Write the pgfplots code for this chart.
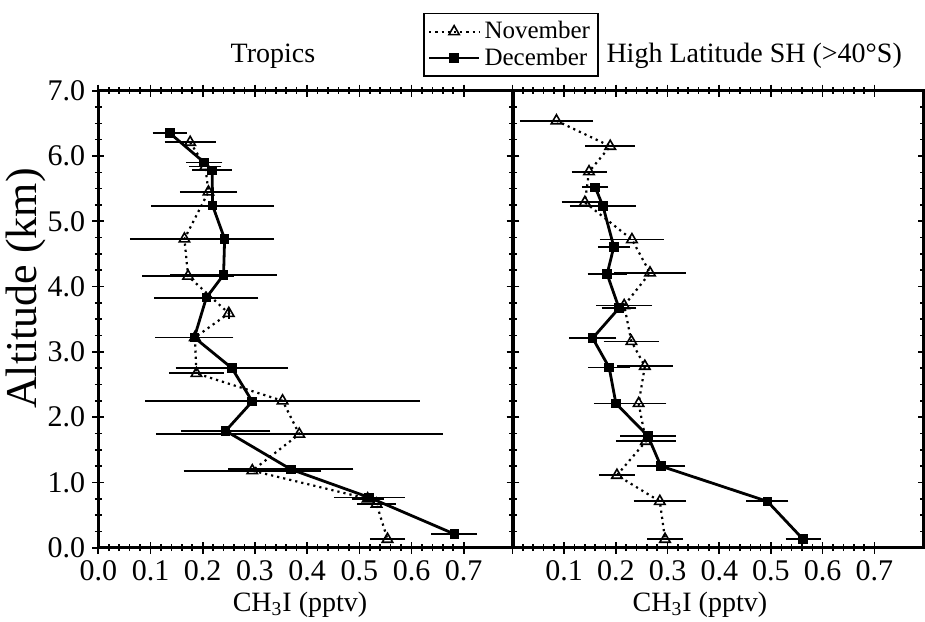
\documentclass[border=0pt]{standalone}
\usepackage{fontspec}
\setmainfont{Liberation Serif}
\usepackage{pgfplots}
\pgfplotsset{compat=1.18}

\pgfplotsset{
  prof/.style={
    scale only axis, height=228.5pt,
    xmin=0, xmax=0.795, ymin=0, ymax=7,
    xtick={0,0.1,0.2,0.3,0.4,0.5,0.6,0.7}, minor x tick num=4,
    ytick={0,1,2,3,4,5,6,7}, minor y tick num=3,
    tick align=center, major tick length=6pt, minor tick length=3.5pt,
    every tick/.style={black, line width=0.8pt},
    axis line style={line width=1.3pt},
    tick label style={font=\fontsize{15}{15}\selectfont},
    /pgf/number format/assume math mode=true,
    /pgf/number format/fixed, /pgf/number format/fixed zerofill,
    /pgf/number format/precision=1,
    title style={font=\fontsize{14}{14}\selectfont, anchor=base, yshift=-5pt},
    xlabel style={font=\fontsize{14}{14}\selectfont, anchor=center},
  },
  nov/.style={black, dotted, line width=1.1pt,
    mark=triangle, mark size=3pt, mark options={solid, fill=white, line width=0.8pt},
    error bars/.cd, x dir=both, x explicit,
    error bar style={solid, line width=0.9pt},
    error mark options={solid, line width=0.9pt, mark size=2.8pt}},
  dec/.style={black, solid, line width=1.4pt,
    mark=square*, mark size=1.7pt, mark options={solid, fill=black},
    error bars/.cd, x dir=both, x explicit,
    error bar style={solid, line width=0.9pt},
    error mark options={solid, line width=0.9pt, mark size=2.8pt}},
}

\begin{document}
\begin{tikzpicture}
\path[use as bounding box] (0,0) rectangle (462.5pt,310.5pt);

% Tropics
\begin{axis}[prof, width=207.5pt,
  at={(49.15pt,36.65pt)}, anchor=south west,
  title={Tropics}, title style={at={(axis description cs:0.421,1.058)}},
  xlabel={CH\textsubscript{3}I (pptv)},
  xlabel style={at={(axis description cs:0.486,-0.125)}},
  ylabel={Altitude (km)},
  ylabel style={at={(axis description cs:-0.175,0.567)}, anchor=center,
    font=\fontsize{22}{22}\selectfont},
  legend style={at={(axis description cs:0.782,1.171)}, anchor=north west,
    draw=black, line width=0.9pt, fill=white,
    font=\fontsize{12.5}{12.5}\selectfont, inner xsep=2pt, inner ysep=2pt,
    row sep=-1pt},
  legend cell align=left,
  legend image code/.code={\draw[mark repeat=2,mark phase=2]
    plot coordinates {(0pt,0pt) (12.5pt,0pt) (25pt,0pt)};},
]
\addplot+[nov] coordinates {
  (0.176,6.21) +- (0.038,0)
  (0.205,5.84) +- (0.020,0)
  (0.211,5.45) +- (0.044,0)
  (0.165,4.73) +- (0.094,0)
  (0.172,4.16) +- (0.077,0)
  (0.250,3.59) +- (0.000,0)
  (0.185,3.22) +- (0.026,0)
  (0.188,2.67) +- (0.042,0)
  (0.353,2.25) +- (0.252,0)
  (0.385,1.74) +- (0.264,0)
  (0.295,1.18) +- (0.121,0)
  (0.516,0.75) +- (0.020,0)
  (0.533,0.67) +- (0.026,0)
  (0.554,0.13) +- (0.023,0)
};
\addlegendentry{November}
\addplot+[dec] coordinates {
  (0.137,6.35) +- (0.022,0)
  (0.203,5.90) +- (0.024,0)
  (0.218,5.78) +- (0.027,0)
  (0.219,5.24) +- (0.107,0)
  (0.242,4.73) +- (0.084,0)
  (0.240,4.18) +- (0.091,0)
  (0.207,3.83) +- (0.089,0)
  (0.184,3.22) +- (0.064,0)
  (0.256,2.75) +- (0.097,0)
  (0.295,2.24) +- (0.085,0)
  (0.244,1.79) +- (0.075,0)
  (0.369,1.20) +- (0.109,0)
  (0.519,0.77) +- (0.057,0)
  (0.682,0.21) +- (0.033,0)
};
\addlegendentry{December}
\draw[line width=2pt] (rel axis cs:0,0) -- (rel axis cs:0,1);
\end{axis}

% High latitude SH
\begin{axis}[prof, width=205.5pt,
  at={(256.25pt,36.65pt)}, anchor=south west,
  xticklabels={,0.1,0.2,0.3,0.4,0.5,0.6,0.7},
  yticklabels={},
  title={High Latitude SH (>40°S)}, title style={at={(axis description cs:0.588,1.058)}},
  xlabel={CH\textsubscript{3}I (pptv)},
  xlabel style={at={(axis description cs:0.456,-0.125)}},
]
\addplot+[nov] coordinates {
  (0.085,6.54) +- (0.060,0)
  (0.189,6.15) +- (0.037,0)
  (0.148,5.76) +- (0.023,0)
  (0.140,5.29) +- (0.034,0)
  (0.231,4.72) +- (0.051,0)
  (0.266,4.21) +- (0.058,0)
  (0.216,3.71) +- (0.043,0)
  (0.230,3.16) +- (0.043,0)
  (0.256,2.78) +- (0.043,0)
  (0.244,2.21) +- (0.043,0)
  (0.258,1.63) +- (0.047,0)
  (0.202,1.11) +- (0.024,0)
  (0.285,0.71) +- (0.040,0)
  (0.295,0.13) +- (0.024,0)
};
\addplot+[dec] coordinates {
  (0.160,5.52) +- (0.014,0)
  (0.175,5.23) +- (0.053,0)
  (0.196,4.61) +- (0.020,0)
  (0.183,4.19) +- (0.027,0)
  (0.206,3.67) +- (0.023,0)
  (0.155,3.21) +- (0.035,0)
  (0.187,2.76) +- (0.030,0)
  (0.200,2.21) +- (0.032,0)
  (0.262,1.71) +- (0.043,0)
  (0.287,1.25) +- (0.036,0)
  (0.493,0.71) +- (0.030,0)
  (0.562,0.13) +- (0.023,0)
};
\draw[line width=2pt] (rel axis cs:0,0) -- (rel axis cs:0,1);
\end{axis}
\end{tikzpicture}
\end{document}
